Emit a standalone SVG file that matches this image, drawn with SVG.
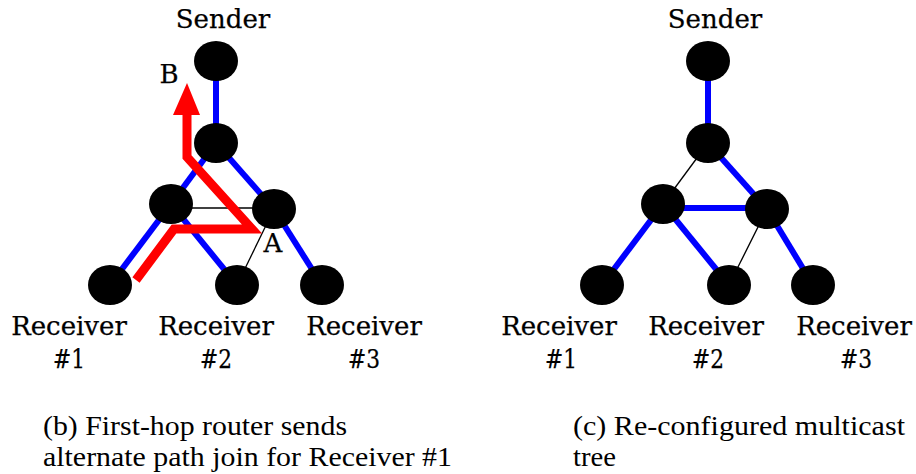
<svg xmlns="http://www.w3.org/2000/svg" width="916" height="474" viewBox="0 0 916 474">
<style>
.node{fill:#000}
.tree{stroke:#0000ff;stroke-width:6;fill:none}
.link{stroke:#000;stroke-width:1.3;fill:none}
.lbl{font-family:'DejaVu Serif',serif;font-size:26px;fill:#000;text-anchor:middle;stroke:#000;stroke-width:0.25}
.cap{font-family:'Liberation Serif','Times New Roman',serif;font-size:27px;fill:#000}
.join{stroke:#ff0000;stroke-width:9;fill:none;stroke-linejoin:miter;stroke-miterlimit:10}
</style>
<rect width="916" height="474" fill="#fff"/>
<g id="connectors">
  <line class="tree" x1="216" y1="61" x2="216" y2="143"/>
  <line class="tree" x1="216" y1="143" x2="171" y2="204"/>
  <line class="tree" x1="216" y1="143" x2="274" y2="209"/>
  <line class="tree" x1="171" y1="204" x2="110" y2="285"/>
  <line class="tree" x1="171" y1="204" x2="237" y2="285"/>
  <line class="tree" x1="274" y1="209" x2="322" y2="285"/>
  <line class="link" x1="171" y1="208" x2="274" y2="208"/>
  <line class="link" x1="274" y1="209" x2="237" y2="285"/>
  <line class="tree" x1="708" y1="61" x2="708" y2="143"/>
  <line class="link" x1="708" y1="143" x2="663" y2="204"/>
  <line class="tree" x1="708" y1="143" x2="767" y2="209"/>
  <line class="tree" x1="663" y1="208" x2="767" y2="208"/>
  <line class="tree" x1="663" y1="204" x2="602" y2="285"/>
  <line class="tree" x1="663" y1="204" x2="729" y2="285"/>
  <line class="link" x1="767" y1="209" x2="729" y2="285"/>
  <line class="tree" x1="767" y1="209" x2="813" y2="285"/>
</g>
<g id="b-sender"><ellipse class="node" cx="216" cy="61" rx="22" ry="20"/><text class="lbl" x="223" y="28">Sender</text></g>
<g id="b-r0"><ellipse class="node" cx="216" cy="143" rx="22" ry="20"/></g>
<g id="b-rl"><ellipse class="node" cx="171" cy="204" rx="22" ry="20"/></g>
<g id="b-rr"><ellipse class="node" cx="274" cy="209" rx="22" ry="20"/></g>
<g id="b-recv1"><ellipse class="node" cx="110" cy="285" rx="22" ry="20"/><text class="lbl" x="69" y="335">Receiver</text><text class="lbl" x="69" y="368" textLength="32" lengthAdjust="spacingAndGlyphs">#1</text></g>
<g id="b-recv2"><ellipse class="node" cx="237" cy="285" rx="22" ry="20"/><text class="lbl" x="216" y="335">Receiver</text><text class="lbl" x="216" y="368" textLength="32" lengthAdjust="spacingAndGlyphs">#2</text></g>
<g id="b-recv3"><ellipse class="node" cx="322" cy="285" rx="22" ry="20"/><text class="lbl" x="364" y="335">Receiver</text><text class="lbl" x="364" y="368" textLength="32" lengthAdjust="spacingAndGlyphs">#3</text></g>
<g id="b-join">
  <path class="join" d="M136,280 L174,229 L252,229 L187,157 L187,112"/>
  <polygon points="173,115 200,115 187,83" fill="#ff0000"/>
  <text class="lbl" x="169" y="83">B</text>
  <text class="lbl" x="273" y="252">A</text>
</g>
<g id="c-sender"><ellipse class="node" cx="708" cy="61" rx="22" ry="20"/><text class="lbl" x="715" y="28">Sender</text></g>
<g id="c-r0"><ellipse class="node" cx="708" cy="143" rx="22" ry="20"/></g>
<g id="c-rl"><ellipse class="node" cx="663" cy="204" rx="22" ry="20"/></g>
<g id="c-rr"><ellipse class="node" cx="767" cy="209" rx="22" ry="20"/></g>
<g id="c-recv1"><ellipse class="node" cx="602" cy="285" rx="22" ry="20"/><text class="lbl" x="559" y="335">Receiver</text><text class="lbl" x="561" y="368" textLength="32" lengthAdjust="spacingAndGlyphs">#1</text></g>
<g id="c-recv2"><ellipse class="node" cx="729" cy="285" rx="22" ry="20"/><text class="lbl" x="706" y="335">Receiver</text><text class="lbl" x="708" y="368" textLength="32" lengthAdjust="spacingAndGlyphs">#2</text></g>
<g id="c-recv3"><ellipse class="node" cx="813" cy="285" rx="22" ry="20"/><text class="lbl" x="854" y="335">Receiver</text><text class="lbl" x="856" y="368" textLength="32" lengthAdjust="spacingAndGlyphs">#3</text></g>
<g id="captions">
  <text class="cap" x="43" y="435" textLength="304" lengthAdjust="spacingAndGlyphs">(b) First-hop router sends</text>
  <text class="cap" x="43" y="466" textLength="409" lengthAdjust="spacingAndGlyphs">alternate path join for Receiver #1</text>
  <text class="cap" x="573" y="435" textLength="332" lengthAdjust="spacingAndGlyphs">(c) Re-configured multicast</text>
  <text class="cap" x="573" y="466" textLength="43" lengthAdjust="spacingAndGlyphs">tree</text>
</g>
</svg>
